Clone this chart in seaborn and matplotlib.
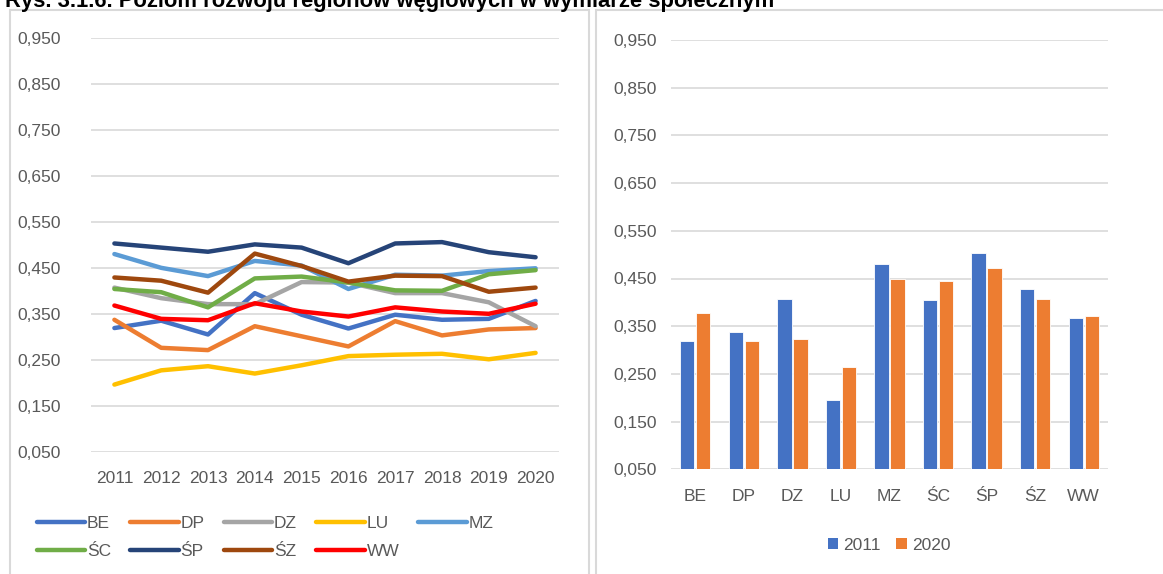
import numpy as np
import pandas as pd
import matplotlib
matplotlib.use("Agg")
import matplotlib.pyplot as plt
import seaborn as sns
from matplotlib.patches import Rectangle, Patch
from matplotlib.lines import Line2D
from matplotlib.ticker import FuncFormatter

years = [2011, 2012, 2013, 2014, 2015, 2016, 2017, 2018, 2019, 2020]
regions = ["BE", "DP", "DZ", "LU", "MZ", "ŚC", "ŚP", "ŚZ", "WW"]

BE = [0.319, 0.335, 0.305, 0.395, 0.348, 0.318, 0.348, 0.337, 0.339, 0.378]
DP = [0.337, 0.276, 0.271, 0.323, 0.301, 0.279, 0.334, 0.303, 0.316, 0.319]
DZ = [0.407, 0.384, 0.371, 0.371, 0.419, 0.418, 0.395, 0.395, 0.375, 0.323]
LU = [0.196, 0.227, 0.236, 0.220, 0.238, 0.258, 0.261, 0.263, 0.251, 0.265]
MZ = [0.480, 0.450, 0.432, 0.465, 0.455, 0.404, 0.435, 0.433, 0.443, 0.449]
SC = [0.404, 0.397, 0.364, 0.427, 0.431, 0.418, 0.401, 0.400, 0.436, 0.445]
SP = [0.503, 0.494, 0.485, 0.501, 0.494, 0.460, 0.503, 0.506, 0.484, 0.473]
SZ = [0.429, 0.422, 0.396, 0.481, 0.454, 0.420, 0.433, 0.432, 0.398, 0.407]
WW = [0.368, 0.339, 0.336, 0.373, 0.355, 0.344, 0.364, 0.355, 0.350, 0.372]

series = [BE, DP, DZ, LU, MZ, SC, SP, SZ, WW]
colors = ["#4472C4", "#ED7D31", "#A5A5A5", "#FFC000", "#5B9BD5",
          "#70AD47", "#264478", "#9E480E", "#FF0000"]

bar_years = ["2011", "2020"]
bar_colors = ["#4472C4", "#ED7D31"]

y_ticks = [0.05, 0.15, 0.25, 0.35, 0.45, 0.55, 0.65, 0.75, 0.85, 0.95]

title = "Rys. 3.1.6. Poziom rozwoju regionów węglowych w wymiarze społecznym"

sns.set_theme(style="white")
plt.rcParams["font.family"] = ["Liberation Sans", "DejaVu Sans"]
TXT = "#595959"
GRID = "#D9D9D9"

rows = []
for reg, vals in zip(regions, series):
    for i, (y, v) in enumerate(zip(years, vals)):
        rows.append({"idx": i, "year": str(y), "region": reg, "value": v})
df_line = pd.DataFrame(rows)

brows = []
for reg, vals in zip(regions, series):
    brows.append({"region": reg, "year": "2011", "value": vals[0]})
    brows.append({"region": reg, "year": "2020", "value": vals[-1]})
df_bar = pd.DataFrame(brows)

fig = plt.figure(figsize=(11.63, 5.74), dpi=100)
W, H = 1163, 574

def fx(px):
    return px / W

def fy(py):
    return 1 - py / H

fig.patches.append(Rectangle((fx(10), fy(590)), fx(589 - 10), fy(10) - fy(590),
                             transform=fig.transFigure, fill=False,
                             edgecolor=GRID, linewidth=1.5))
fig.patches.append(Rectangle((fx(596), fy(590)), fx(1180 - 596), fy(10) - fy(590),
                             transform=fig.transFigure, fill=False,
                             edgecolor=GRID, linewidth=1.5))

fig.text(fx(5), fy(6.5), title, fontsize=15.8, fontweight="bold",
         color="black", va="baseline", ha="left")

fmt = FuncFormatter(lambda v, p: f"{v:.3f}".replace(".", ","))

# left line chart
ax1 = fig.add_axes([fx(91), fy(451.7), fx(559 - 91), fy(38) - fy(451.7)])
sns.lineplot(data=df_line, x="idx", y="value", hue="region", hue_order=regions,
             palette=colors, linewidth=3.2, ax=ax1, legend=False, sort=False)
ax1.set_xlim(-0.5, 9.5)
ax1.set_ylim(0.05, 0.95)
ax1.set_yticks(y_ticks)
ax1.yaxis.set_major_formatter(fmt)
ax1.set_xticks(range(len(years)))
ax1.set_xticklabels([str(y) for y in years])
ax1.set_xlabel("")
ax1.set_ylabel("")
ax1.grid(axis="y", color=GRID, linewidth=1.2)
ax1.set_axisbelow(True)
for s in ax1.spines.values():
    s.set_visible(False)
ax1.tick_params(axis="both", colors=TXT, labelsize=12.5, length=0)
ax1.tick_params(axis="y", pad=22)
ax1.tick_params(axis="x", pad=14)

# legend laid out row-wise: reorder for column-major filling
order = [0, 5, 1, 6, 2, 7, 3, 8, 4]
handles = [Line2D([0], [0], color=colors[i], linewidth=3.2, solid_capstyle="round") for i in order]
labels = [regions[i] for i in order]
fig.legend(handles, labels, loc="upper left", bbox_to_anchor=(fx(21), fy(500)),
           ncol=5, frameon=False, fontsize=12.5, handlelength=2.8,
           handletextpad=0.1, columnspacing=1.1, labelspacing=0.75,
           labelcolor=TXT)

# right bar chart
ax2 = fig.add_axes([fx(671), fy(469.3), fx(1108 - 671), fy(40) - fy(469.3)])
sns.barplot(data=df_bar, x="region", y="value", hue="year", order=regions,
            hue_order=bar_years, palette=bar_colors, width=0.66, gap=0.1,
            ax=ax2, legend=False, saturation=1, edgecolor="white", linewidth=0.6)
ax2.set_xlim(-0.5, 8.5)
ax2.set_ylim(0.05, 0.95)
ax2.set_yticks(y_ticks)
ax2.yaxis.set_major_formatter(fmt)
ax2.set_xlabel("")
ax2.set_ylabel("")
ax2.grid(axis="y", color=GRID, linewidth=1.2)
ax2.set_axisbelow(True)
for s in ax2.spines.values():
    s.set_visible(False)
ax2.tick_params(axis="both", colors=TXT, labelsize=12.5, length=0)
ax2.tick_params(axis="y", pad=10)
ax2.tick_params(axis="x", pad=14)

bh = [Patch(facecolor=c, edgecolor="none") for c in bar_colors]
fig.legend(bh, bar_years, loc="center", bbox_to_anchor=(fx(889), fy(545)),
           ncol=2, frameon=False, fontsize=12.5, handlelength=0.6,
           handleheight=0.6, handletextpad=0.3, columnspacing=0.9,
           labelcolor=TXT)

fig.savefig("out.png", dpi=100)
